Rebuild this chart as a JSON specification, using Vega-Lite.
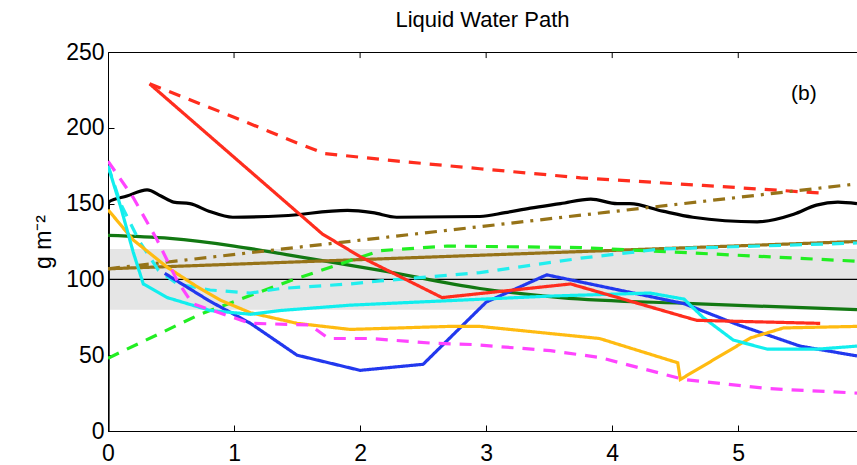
{
  "$schema": "https://vega.github.io/schema/vega-lite/v6.json",
  "width": 749,
  "height": 379,
  "autosize": {"type": "none"},
  "padding": {"left": 108, "top": 52, "right": 0, "bottom": 34},
  "background": "white",
  "title": {"text": "Liquid Water Path", "fontSize": 22, "font": "Liberation Sans", "fontWeight": "normal", "color": "black", "offset": 9},
  "config": {
    "view": {"stroke": "black", "strokeWidth": 1},
    "axis": {"grid": false, "domainColor": "black", "tickColor": "black", "labelColor": "black", "labelFont": "Liberation Sans", "labelFontSize": 23, "titleFont": "Liberation Sans", "titleFontWeight": "normal", "titleColor": "black", "tickSize": -6, "tickWidth": 1, "domainWidth": 1}
  },
  "datasets": {
    "lines": [
      {"s": "redDash", "x": 0.33, "y": 229}, {"s": "redDash", "x": 1.0, "y": 207}, {"s": "redDash", "x": 1.5, "y": 190}, {"s": "redDash", "x": 1.72, "y": 183}, {"s": "redDash", "x": 2.3, "y": 178}, {"s": "redDash", "x": 2.95, "y": 173}, {"s": "redDash", "x": 3.75, "y": 167}, {"s": "redDash", "x": 4.72, "y": 162}, {"s": "redDash", "x": 5.65, "y": 157},
      {"s": "black", "x": 0, "y": 0}, {"s": "black", "x": 0.003, "y": 151}, {"s": "black", "x": 0.15, "y": 155}, {"s": "black", "x": 0.31, "y": 159}, {"s": "black", "x": 0.42, "y": 155}, {"s": "black", "x": 0.52, "y": 151}, {"s": "black", "x": 0.65, "y": 150}, {"s": "black", "x": 0.8, "y": 145}, {"s": "black", "x": 0.99, "y": 141}, {"s": "black", "x": 1.39, "y": 142}, {"s": "black", "x": 1.9, "y": 145.5}, {"s": "black", "x": 2.1, "y": 144}, {"s": "black", "x": 2.29, "y": 141}, {"s": "black", "x": 2.95, "y": 141.5}, {"s": "black", "x": 3.15, "y": 144}, {"s": "black", "x": 3.35, "y": 147}, {"s": "black", "x": 3.59, "y": 150}, {"s": "black", "x": 3.83, "y": 153}, {"s": "black", "x": 4.04, "y": 150}, {"s": "black", "x": 4.14, "y": 150}, {"s": "black", "x": 4.4, "y": 145}, {"s": "black", "x": 4.64, "y": 141}, {"s": "black", "x": 5.15, "y": 138}, {"s": "black", "x": 5.44, "y": 143}, {"s": "black", "x": 5.62, "y": 149}, {"s": "black", "x": 5.79, "y": 151}, {"s": "black", "x": 5.942, "y": 150},
      {"s": "brownDashDot", "x": 0, "y": 107}, {"s": "brownDashDot", "x": 5.942, "y": 163},
      {"s": "brown", "x": 0, "y": 107}, {"s": "brown", "x": 5.942, "y": 125},
      {"s": "darkgreen", "x": 0, "y": 129}, {"s": "darkgreen", "x": 0.49, "y": 127}, {"s": "darkgreen", "x": 1.0, "y": 122}, {"s": "darkgreen", "x": 1.44, "y": 116}, {"s": "darkgreen", "x": 2.16, "y": 106}, {"s": "darkgreen", "x": 2.95, "y": 94}, {"s": "darkgreen", "x": 3.59, "y": 88}, {"s": "darkgreen", "x": 4.64, "y": 84}, {"s": "darkgreen", "x": 5.942, "y": 80},
      {"s": "greenDash", "x": 0, "y": 48}, {"s": "greenDash", "x": 0.73, "y": 77}, {"s": "greenDash", "x": 1.44, "y": 99}, {"s": "greenDash", "x": 2.16, "y": 119}, {"s": "greenDash", "x": 2.69, "y": 122}, {"s": "greenDash", "x": 3.75, "y": 121}, {"s": "greenDash", "x": 4.5, "y": 118}, {"s": "greenDash", "x": 5.942, "y": 112},
      {"s": "cyanDash", "x": 0, "y": 175}, {"s": "cyanDash", "x": 0.1, "y": 150}, {"s": "cyanDash", "x": 0.25, "y": 125}, {"s": "cyanDash", "x": 0.4, "y": 106}, {"s": "cyanDash", "x": 0.55, "y": 97}, {"s": "cyanDash", "x": 0.81, "y": 93}, {"s": "cyanDash", "x": 1.13, "y": 91}, {"s": "cyanDash", "x": 1.37, "y": 94}, {"s": "cyanDash", "x": 1.92, "y": 97}, {"s": "cyanDash", "x": 2.16, "y": 99}, {"s": "cyanDash", "x": 2.95, "y": 104.5}, {"s": "cyanDash", "x": 3.75, "y": 114}, {"s": "cyanDash", "x": 4.38, "y": 120}, {"s": "cyanDash", "x": 5.942, "y": 124},
      {"s": "blue", "x": 0.45, "y": 104}, {"s": "blue", "x": 0.8, "y": 86}, {"s": "blue", "x": 1.13, "y": 71}, {"s": "blue", "x": 1.5, "y": 50}, {"s": "blue", "x": 2.0, "y": 40}, {"s": "blue", "x": 2.5, "y": 44}, {"s": "blue", "x": 3.0, "y": 85}, {"s": "blue", "x": 3.48, "y": 103}, {"s": "blue", "x": 4.57, "y": 84}, {"s": "blue", "x": 5.0, "y": 70}, {"s": "blue", "x": 5.49, "y": 56}, {"s": "blue", "x": 5.942, "y": 49.5},
      {"s": "orange", "x": 0, "y": 146}, {"s": "orange", "x": 0.2, "y": 126}, {"s": "orange", "x": 0.47, "y": 108}, {"s": "orange", "x": 0.71, "y": 95}, {"s": "orange", "x": 0.9, "y": 86}, {"s": "orange", "x": 1.13, "y": 78}, {"s": "orange", "x": 1.5, "y": 71}, {"s": "orange", "x": 1.92, "y": 67}, {"s": "orange", "x": 2.71, "y": 69}, {"s": "orange", "x": 2.95, "y": 69}, {"s": "orange", "x": 3.9, "y": 61}, {"s": "orange", "x": 4.52, "y": 45}, {"s": "orange", "x": 4.54, "y": 34}, {"s": "orange", "x": 5.1, "y": 61.5}, {"s": "orange", "x": 5.36, "y": 68}, {"s": "orange", "x": 5.942, "y": 69},
      {"s": "cyan", "x": 0, "y": 175}, {"s": "cyan", "x": 0.1, "y": 148}, {"s": "cyan", "x": 0.2, "y": 118}, {"s": "cyan", "x": 0.28, "y": 97}, {"s": "cyan", "x": 0.47, "y": 88}, {"s": "cyan", "x": 0.81, "y": 79.5}, {"s": "cyan", "x": 1.13, "y": 77}, {"s": "cyan", "x": 1.37, "y": 79.5}, {"s": "cyan", "x": 1.92, "y": 83}, {"s": "cyan", "x": 2.71, "y": 86}, {"s": "cyan", "x": 3.51, "y": 89}, {"s": "cyan", "x": 4.3, "y": 91}, {"s": "cyan", "x": 4.57, "y": 87}, {"s": "cyan", "x": 4.72, "y": 75}, {"s": "cyan", "x": 4.96, "y": 60}, {"s": "cyan", "x": 5.23, "y": 54}, {"s": "cyan", "x": 5.63, "y": 54}, {"s": "cyan", "x": 5.942, "y": 56},
      {"s": "magentaDash", "x": 0, "y": 178}, {"s": "magentaDash", "x": 0.2, "y": 154}, {"s": "magentaDash", "x": 0.39, "y": 126}, {"s": "magentaDash", "x": 0.55, "y": 99}, {"s": "magentaDash", "x": 0.67, "y": 84}, {"s": "magentaDash", "x": 1.13, "y": 71}, {"s": "magentaDash", "x": 1.6, "y": 70}, {"s": "magentaDash", "x": 1.75, "y": 61}, {"s": "magentaDash", "x": 2.08, "y": 61}, {"s": "magentaDash", "x": 2.56, "y": 58}, {"s": "magentaDash", "x": 2.9, "y": 57}, {"s": "magentaDash", "x": 3.51, "y": 53}, {"s": "magentaDash", "x": 3.9, "y": 48.5}, {"s": "magentaDash", "x": 4.57, "y": 34}, {"s": "magentaDash", "x": 5.23, "y": 28}, {"s": "magentaDash", "x": 5.942, "y": 25},
      {"s": "red", "x": 0.33, "y": 229}, {"s": "red", "x": 1.7, "y": 130}, {"s": "red", "x": 2.0, "y": 115}, {"s": "red", "x": 2.65, "y": 88}, {"s": "red", "x": 3.67, "y": 97}, {"s": "red", "x": 4.67, "y": 73}, {"s": "red", "x": 5.65, "y": 71}
    ]
  },
  "layer": [
    {
      "data": {"values": [{"x": 0, "x2": 5.942, "y": 80, "y2": 120}]},
      "mark": {"type": "rect", "color": "#e5e5e5"},
      "encoding": {
        "x": {"field": "x", "type": "quantitative", "scale": {"domain": [0, 5.942], "nice": false, "zero": false}, "axis": {"values": [0, 1, 2, 3, 4, 5], "format": "d", "title": null, "labelPadding": 17, "labelFlush": false}},
        "x2": {"field": "x2"},
        "y": {"field": "y", "type": "quantitative", "scale": {"domain": [0, 250], "nice": false}, "axis": {"values": [0, 50, 100, 150, 200, 250], "format": "d", "title": "g m⁻²", "titleFontSize": 23, "titlePadding": 10, "labelPadding": 10}},
        "y2": {"field": "y2"}
      }
    },
    {
      "data": {"values": [{"x": 1}, {"x": 2}, {"x": 3}, {"x": 4}, {"x": 5}]},
      "mark": {"type": "rule", "color": "black", "strokeWidth": 1},
      "encoding": {
        "x": {"field": "x", "type": "quantitative"},
        "y": {"datum": 250},
        "y2": {"datum": 246}
      }
    },
    {
      "data": {"values": [{"y": 100}]},
      "mark": {"type": "rule", "color": "black", "strokeWidth": 1.2},
      "encoding": {"y": {"field": "y", "type": "quantitative"}}
    },
    {
      "data": {"name": "lines"},
      "transform": [{"filter": "datum.s === 'black' || datum.s === 'darkgreen'"}],
      "mark": {"type": "line", "strokeWidth": 3.2, "clip": true, "interpolate": "monotone"},
      "encoding": {
        "x": {"field": "x", "type": "quantitative"},
        "y": {"field": "y", "type": "quantitative"},
        "color": {"field": "s", "type": "nominal", "legend": null, "scale": {
          "domain": ["redDash", "black", "brownDashDot", "brown", "darkgreen", "greenDash", "cyanDash", "blue", "orange", "cyan", "magentaDash", "red"],
          "range": ["#ff2d1e", "#000000", "#967318", "#967318", "#127812", "#22ee22", "#22eeee", "#2238ee", "#ffbb11", "#11eeee", "#ff44ff", "#ff2d1e"]}}
      }
    },
    {
      "data": {"name": "lines"},
      "transform": [{"filter": "datum.s !== 'black' && datum.s !== 'darkgreen'"}],
      "mark": {"type": "line", "strokeWidth": 3.2, "clip": true},
      "encoding": {
        "x": {"field": "x", "type": "quantitative"},
        "y": {"field": "y", "type": "quantitative"},
        "color": {"field": "s", "type": "nominal", "legend": null},
        "strokeDash": {"field": "s", "type": "nominal", "legend": null, "scale": {
          "domain": ["redDash", "black", "brownDashDot", "brown", "darkgreen", "greenDash", "cyanDash", "blue", "orange", "cyan", "magentaDash", "red"],
          "range": [[12, 9], [1, 0], [12, 7, 3, 7], [1, 0], [1, 0], [12, 9], [12, 9], [1, 0], [1, 0], [1, 0], [12, 9], [1, 0]]}}
      }
    },
    {
      "data": {"values": [{"x": 5.52, "y": 222, "t": "(b)"}]},
      "mark": {"type": "text", "fontSize": 21, "font": "Liberation Sans", "color": "black"},
      "encoding": {
        "x": {"field": "x", "type": "quantitative"},
        "y": {"field": "y", "type": "quantitative"},
        "text": {"field": "t"}
      }
    }
  ]
}
